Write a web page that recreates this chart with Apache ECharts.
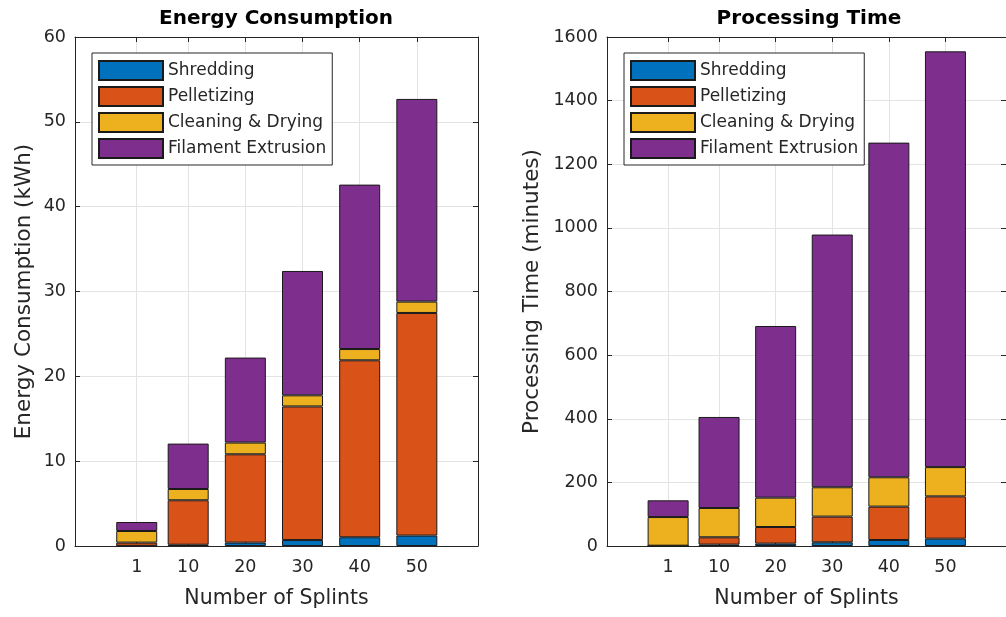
<!DOCTYPE html>
<html>
<head>
<meta charset="utf-8">
<script src="https://cdn.jsdelivr.net/npm/echarts@6/dist/echarts.min.js"></script>
<style>
  html, body { margin: 0; padding: 0; background: #fff; }
  #chart-panel { width: 1006px; height: 617px; }
</style>
</head>
<body>
<div id="chart-panel"></div>
<script>
// x positions (number of splints)
const splints = [1, 10, 20, 30, 40, 50];
const stageNames = ['Shredding', 'Pelletizing', 'Cleaning & Drying', 'Filament Extrusion'];
const stageColors = ['#0072BD', '#D95319', '#EDB120', '#7E2F8E'];

// energy consumption per stage (kWh)
const energyShredding = [0.02, 0.15, 0.4, 0.7, 1.03, 1.23];
const energyPelletizing = [0.38, 5.24, 10.41, 15.75, 20.86, 26.24];
const energyCleaning = [1.37, 1.33, 1.38, 1.31, 1.33, 1.34];
const energyExtrusion = [1.06, 5.35, 10.02, 14.66, 19.38, 23.89];

// processing time per stage (minutes)
const timeShredding = [0.3, 4.4, 7.5, 11.6, 18.9, 23];
const timePelletizing = [0.7, 23, 52.2, 80.8, 104.9, 133];
const timeCleaning = [90, 92.1, 92.3, 92.2, 92.2, 92];
const timeExtrusion = [52.6, 286.1, 539.6, 794.4, 1052, 1307];

const energyTicks = [0, 10, 20, 30, 40, 50, 60];
const timeTicks = [0, 200, 400, 600, 800, 1000, 1200, 1400, 1600];

const FONT = 'DejaVu Sans';
const AXIS_COLOR = '#262626';
const GRID_COLOR = '#e3e3e3';

var myChart = echarts.init(document.getElementById('chart-panel'));

// value first, x second, so the stack runs along the value dimension
function pairs(vals) {
  return splints.map(function (s, i) { return [vals[i], s]; });
}

function xAxes(gridIndex) {
  const base = {
    type: 'value',
    gridIndex: gridIndex,
    min: -9.8,
    max: 60.7,
    axisLine: { show: true, onZero: false, lineStyle: { color: AXIS_COLOR, width: 1 } },
    axisTick: { show: true, inside: true, length: 5, customValues: splints, lineStyle: { color: AXIS_COLOR } }
  };
  return [
    Object.assign({}, base, {
      position: 'bottom',
      name: 'Number of Splints',
      nameLocation: 'middle',
      nameGap: 42,
      nameTextStyle: { fontFamily: FONT, fontSize: 20.5, color: AXIS_COLOR },
      axisLabel: { customValues: splints, margin: 12, fontFamily: FONT, fontSize: 17.5, color: AXIS_COLOR },
      splitLine: { show: true, lineStyle: { color: GRID_COLOR, width: 1 } }
    }),
    Object.assign({}, base, {
      position: 'top',
      axisLabel: { show: false },
      splitLine: { show: false }
    })
  ];
}

function yAxes(gridIndex, ticks, name, nameGap) {
  const base = {
    type: 'value',
    gridIndex: gridIndex,
    min: ticks[0],
    max: ticks[ticks.length - 1],
    interval: ticks[1] - ticks[0],
    axisLine: { show: true, onZero: false, lineStyle: { color: AXIS_COLOR, width: 1 } },
    axisTick: { show: true, inside: true, length: 5, lineStyle: { color: AXIS_COLOR } }
  };
  return [
    Object.assign({}, base, {
      position: 'left',
      name: name,
      nameLocation: 'middle',
      nameGap: nameGap,
      nameTextStyle: { fontFamily: FONT, fontSize: 21.5, color: AXIS_COLOR },
      axisLabel: {
        margin: 9, fontFamily: FONT, fontSize: 17.5, color: AXIS_COLOR,
        formatter: function (v) { return String(v); }
      },
      splitLine: { show: true, lineStyle: { color: GRID_COLOR, width: 1 } }
    }),
    Object.assign({}, base, {
      position: 'right',
      axisLabel: { show: false },
      splitLine: { show: false }
    })
  ];
}

function stackSeries(gridIndex, values, stackName) {
  return values.map(function (vals, k) {
    return {
      name: stageNames[k],
      type: 'bar',
      stack: stackName,
      xAxisIndex: gridIndex * 2,
      yAxisIndex: gridIndex * 2,
      barWidth: 41,
      encode: { x: 1, y: 0 },
      data: pairs(vals),
      itemStyle: { color: stageColors[k], borderColor: '#1a1a1a', borderWidth: 1 },
      emphasis: { disabled: true },
      animation: false
    };
  });
}

function legendAt(left) {
  return {
    orient: 'vertical',
    left: left,
    top: 53,
    data: stageNames,
    icon: 'rect',
    itemWidth: 64,
    itemHeight: 19,
    itemGap: 5,
    padding: [7, 6, 6, 6],
    backgroundColor: '#fff',
    borderColor: AXIS_COLOR,
    borderWidth: 1,
    borderRadius: 0,
    selectedMode: false,
    textStyle: { fontFamily: FONT, fontSize: 17, color: AXIS_COLOR }
  };
}

const titleStyle = { fontFamily: FONT, fontSize: 20, fontWeight: 'bold', color: '#000' };

myChart.setOption({
  backgroundColor: '#fff',
  animation: false,
  title: [
    { text: 'Energy Consumption', left: 276, top: 9, padding: 0, textAlign: 'center', textStyle: titleStyle },
    { text: 'Processing Time', left: 809, top: 9, padding: 0, textAlign: 'center', textStyle: titleStyle }
  ],
  legend: [legendAt(92), legendAt(624)],
  grid: [
    { left: 75, top: 37, width: 403, height: 509 },
    { left: 607, top: 37, width: 403, height: 509 }
  ],
  xAxis: xAxes(0).concat(xAxes(1)),
  yAxis: yAxes(0, energyTicks, 'Energy Consumption (kWh)', 40)
    .concat(yAxes(1, timeTicks, 'Processing Time (minutes)', 64)),
  series: stackSeries(0, [energyShredding, energyPelletizing, energyCleaning, energyExtrusion], 'energy')
    .concat(stackSeries(1, [timeShredding, timePelletizing, timeCleaning, timeExtrusion], 'time'))
});
</script>
</body>
</html>
